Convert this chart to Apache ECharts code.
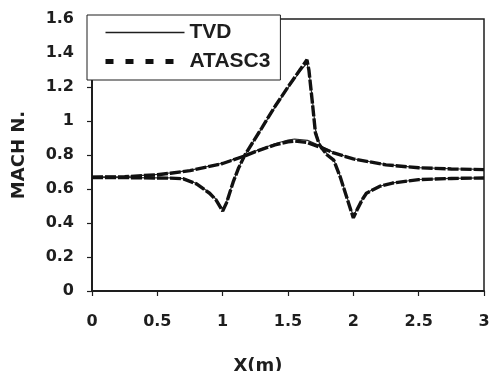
<!DOCTYPE html>
<html>
<head>
<meta charset="utf-8">
<script src="https://cdn.jsdelivr.net/npm/echarts@6/dist/echarts.min.js"></script>
<style>
  html, body { margin: 0; padding: 0; background: #fff; }
  #chart { width: 493px; height: 371px; }
</style>
</head>
<body>
<div id="chart"></div>
<script>
// Axis ticks
const xTicks = [0, 0.5, 1, 1.5, 2, 2.5, 3];
const yTicks = [0, 0.2, 0.4, 0.6, 0.8, 1, 1.2, 1.4, 1.6];

// Subsonic case: smooth Mach number distribution
const subX = [0, 0.25, 0.5, 0.6, 0.75, 1.0, 1.17, 1.25, 1.4, 1.5, 1.55, 1.65, 1.75, 1.85, 2.0, 2.25, 2.5, 2.75, 3.0];
const subAtasc = [0.67, 0.672, 0.684, 0.693, 0.708, 0.75, 0.795, 0.82, 0.86, 0.878, 0.882, 0.873, 0.845, 0.812, 0.777, 0.742, 0.725, 0.718, 0.714];
const subTvd = [0.67, 0.673, 0.686, 0.695, 0.71, 0.752, 0.798, 0.823, 0.866, 0.888, 0.894, 0.886, 0.852, 0.815, 0.778, 0.743, 0.726, 0.719, 0.715];

// Transonic case: expansion dip, supersonic ramp, shock, second dip
const traX = [0, 0.25, 0.5, 0.6, 0.7, 0.8, 0.9, 0.95, 1.0, 1.03, 1.08, 1.12, 1.17, 1.3, 1.4, 1.5, 1.6, 1.645, 1.66, 1.685, 1.71, 1.74, 1.77, 1.8, 1.85, 1.9, 1.95, 2.0, 2.03, 2.07, 2.1, 2.2, 2.3, 2.5, 2.75, 3.0];
const traAtasc = [0.668, 0.667, 0.665, 0.664, 0.66, 0.63, 0.575, 0.535, 0.47, 0.52, 0.64, 0.72, 0.80, 0.96, 1.085, 1.20, 1.31, 1.36, 1.30, 1.12, 0.93, 0.86, 0.83, 0.80, 0.77, 0.67, 0.55, 0.43, 0.48, 0.54, 0.575, 0.615, 0.635, 0.655, 0.662, 0.665];
const traTvd = [0.668, 0.667, 0.666, 0.665, 0.661, 0.632, 0.578, 0.54, 0.48, 0.525, 0.642, 0.722, 0.80, 0.958, 1.08, 1.195, 1.30, 1.34, 1.29, 1.14, 0.95, 0.87, 0.835, 0.805, 0.772, 0.675, 0.555, 0.44, 0.485, 0.542, 0.577, 0.616, 0.636, 0.656, 0.663, 0.666];

const pairs = (xs, ys) => xs.map((x, i) => [x, ys[i]]);

const tickFont = { fontFamily: 'DejaVu Sans', fontWeight: 'bold', fontSize: 16, color: '#1e1e1e' };
const titleFont = { fontFamily: 'DejaVu Sans', fontWeight: 'bold', fontSize: 18, color: '#1e1e1e' };

const tvdStyle = { color: '#2a2a2a', width: 1.2, type: 'solid' };
const atascStyle = { color: '#111', width: 3.4, type: [11, 2] };
const hiddenSymbol = { color: '#111', opacity: 0 };

const chart = echarts.init(document.getElementById('chart'), null, { renderer: 'canvas' });
chart.setOption({
  animation: false,
  backgroundColor: '#fff',
  grid: {
    left: 92, right: 9, top: 19, bottom: 80,
    containLabel: false, outerBoundsMode: 'none',
    show: true, borderColor: '#1e1e1e', borderWidth: 1.5, backgroundColor: 'transparent'
  },
  legend: {
    orient: 'vertical',
    left: 87, top: 15,
    padding: [7, 10, 8, 16],
    itemGap: 8,
    itemWidth: 79, itemHeight: 14,
    backgroundColor: '#fff',
    borderColor: '#1e1e1e', borderWidth: 1,
    itemStyle: hiddenSymbol,
    textStyle: { fontFamily: 'Liberation Sans', fontWeight: 'bold', fontSize: 21, color: '#1e1e1e' },
    data: [
      { name: 'TVD', itemStyle: hiddenSymbol, lineStyle: { color: '#1e1e1e', width: 1.5, type: 'solid' } },
      { name: 'ATASC3', itemStyle: hiddenSymbol, lineStyle: { color: '#111', width: 5, type: [8, 12] } }
    ]
  },
  xAxis: {
    type: 'value', min: 0, max: 3, interval: 0.5,
    name: 'X(m)', nameLocation: 'middle', nameGap: 66,
    nameTextStyle: Object.assign({}, titleFont, { padding: [0, 60, 0, 0] }),
    axisLine: { lineStyle: { color: '#1e1e1e', width: 2 } },
    axisTick: { show: true, inside: false, length: 5, lineStyle: { color: '#1e1e1e', width: 1.2 } },
    axisLabel: Object.assign({}, tickFont, { margin: 23, formatter: v => String(xTicks.find(t => Math.abs(t - v) < 1e-9) ?? v) }),
    splitLine: { show: false }
  },
  yAxis: {
    type: 'value', min: 0, max: 1.6, interval: 0.2,
    name: 'MACH N.', nameLocation: 'middle', nameGap: 64, nameRotate: 90,
    nameTextStyle: titleFont,
    axisLine: { lineStyle: { color: '#1e1e1e', width: 2 } },
    axisTick: { show: true, inside: false, length: 5, lineStyle: { color: '#1e1e1e', width: 1.2 } },
    axisLabel: Object.assign({}, tickFont, { margin: 18, formatter: v => String(yTicks.find(t => Math.abs(t - v) < 1e-9) ?? v) }),
    splitLine: { show: false }
  },
  series: [
    { name: 'TVD', type: 'line', symbol: 'none', itemStyle: { color: '#111' }, data: pairs(subX, subTvd), lineStyle: tvdStyle, z: 2 },
    { name: 'TVD', type: 'line', symbol: 'none', itemStyle: { color: '#111' }, data: pairs(traX, traTvd), lineStyle: tvdStyle, z: 2 },
    { name: 'ATASC3', type: 'line', symbol: 'none', itemStyle: { color: '#111' }, data: pairs(subX, subAtasc), lineStyle: atascStyle, z: 3 },
    { name: 'ATASC3', type: 'line', symbol: 'none', itemStyle: { color: '#111' }, data: pairs(traX, traAtasc), lineStyle: atascStyle, z: 3 }
  ]
});
</script>
</body>
</html>
